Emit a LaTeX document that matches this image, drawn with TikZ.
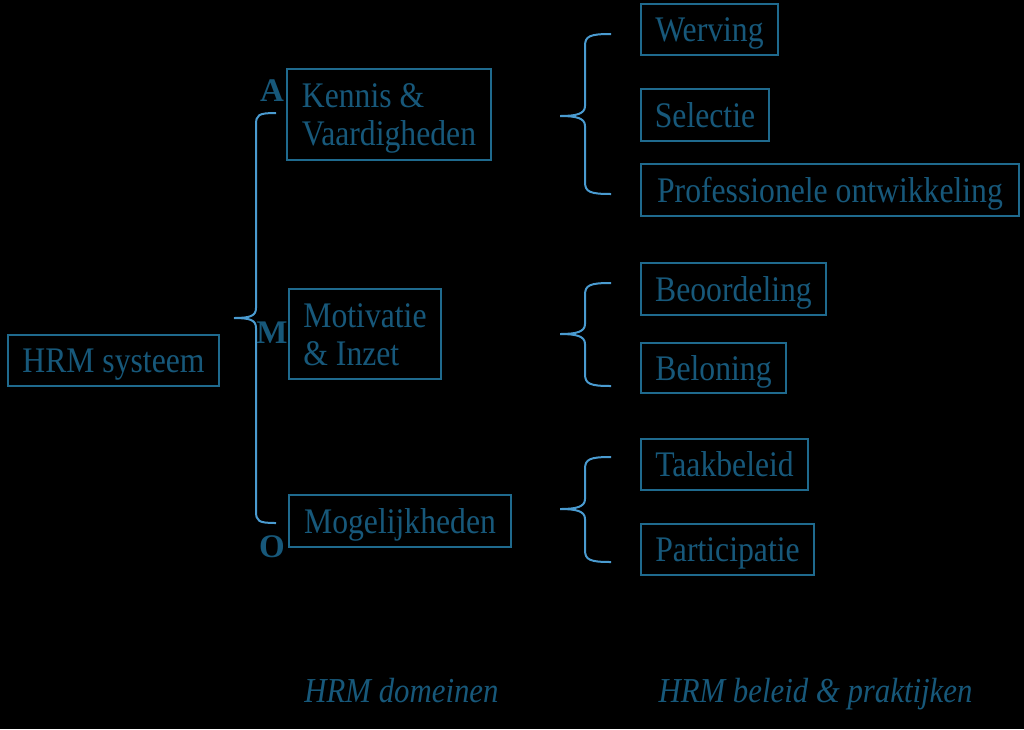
\documentclass[tikz,border=0pt]{standalone}
\usepackage{fontspec}
\setmainfont[FakeStretch=0.88]{Liberation Serif}
\newfontfamily\lettfont{Liberation Serif}
\definecolor{txtc}{HTML}{17587A}
\definecolor{boxc}{HTML}{1F6A8E}
\definecolor{brc}{HTML}{4A9BD0}
\newcommand{\twolines}[2]{\raisebox{0pt}[62pt][0pt]{\begin{tabular}[b]{@{}l@{}}#1\\#2\end{tabular}}}
\begin{document}
\begin{tikzpicture}[x=1pt,y=-1pt,
  box/.style={draw=boxc,line width=1.5pt,text=txtc,font=\fontsize{36}{38}\selectfont,inner sep=0pt,text height=24pt,text depth=0pt},
  box2/.style={draw=boxc,line width=1.5pt,text=txtc,font=\fontsize{36}{38}\selectfont,inner sep=0pt},
  letter/.style={text=txtc,font=\lettfont\fontsize{33}{35}\selectfont\bfseries,inner sep=0pt,text height=22pt,text depth=0pt},
  caption/.style={text=txtc,font=\fontsize{35}{37}\selectfont\itshape,inner sep=0pt,text height=22pt,text depth=0pt},
  brace/.style={draw=brc,line width=2pt}]
\fill[black] (0,0) rectangle (1024,729);
\useasboundingbox (0,0) rectangle (1024,729);
% left
\node[box,minimum width=211pt,minimum height=51pt] (hrm) at (113.5,360.5) {HRM systeem};
% domains
\node[box2,minimum width=204pt,minimum height=91pt] (kv) at (389,114.5) {\twolines{Kennis \&}{Vaardigheden}};
\node[box2,minimum width=152pt,minimum height=90pt] (mi) at (365,334) {\twolines{Motivatie}{\& Inzet}};
\node[box,minimum width=222pt,minimum height=52pt] (mo) at (400,521) {Mogelijkheden};
\node[letter] (la) at (272,90) {A};
\node[letter] (lm) at (272,332) {M};
\node[letter] (lo) at (272,546) {O};
% practices
\node[box,minimum width=137pt,minimum height=51pt] (we) at (709.5,29.5) {Werving};
\node[box,minimum width=128pt,minimum height=52pt] (se) at (705,115) {Selectie};
\node[box,minimum width=378pt,minimum height=52pt] (pr) at (830,190) {Professionele ontwikkeling};
\node[box,minimum width=185pt,minimum height=52pt] (be) at (733.5,289) {Beoordeling};
\node[box,minimum width=145pt,minimum height=50pt] (bl) at (713.5,368) {Beloning};
\node[box,minimum width=167pt,minimum height=51pt] (ta) at (724.5,464.5) {Taakbeleid};
\node[box,minimum width=173pt,minimum height=51pt] (pa) at (727.5,549.5) {Participatie};
% captions
\node[caption] (c1) at (401.5,691) {HRM domeinen};
\node[caption] (c2) at (815.5,691) {HRM beleid \& praktijken};
% braces
\coordinate (b0t) at (276,113); \coordinate (b0m) at (234,318); \coordinate (b0b) at (276,523);
\draw[brace] (b0t) .. controls (258,113) and (256,115) .. (256,125) -- (256,308)
  .. controls (256,316) and (250,318) .. (b0m)
  (b0m) .. controls (250,318) and (256,320) .. (256,328) -- (256,511)
  .. controls (256,521) and (258,523) .. (b0b);
\coordinate (b1t) at (611,34); \coordinate (b1m) at (560,116); \coordinate (b1b) at (611,194);
\draw[brace] (b1t) .. controls (590,34) and (585,36) .. (585,46) -- (585,106)
  .. controls (585,114) and (576,116) .. (b1m)
  (b1m) .. controls (576,116) and (585,118) .. (585,126) -- (585,182)
  .. controls (585,192) and (590,194) .. (b1b);
\coordinate (b2t) at (611,283); \coordinate (b2m) at (560,334); \coordinate (b2b) at (611,386);
\draw[brace] (b2t) .. controls (590,283) and (585,285) .. (585,295) -- (585,324)
  .. controls (585,332) and (576,334) .. (b2m)
  (b2m) .. controls (576,334) and (585,336) .. (585,344) -- (585,374)
  .. controls (585,384) and (590,386) .. (b2b);
\coordinate (b3t) at (611,457); \coordinate (b3m) at (560,509); \coordinate (b3b) at (611,562);
\draw[brace] (b3t) .. controls (590,457) and (585,459) .. (585,469) -- (585,499)
  .. controls (585,507) and (576,509) .. (b3m)
  (b3m) .. controls (576,509) and (585,511) .. (585,519) -- (585,550)
  .. controls (585,560) and (590,562) .. (b3b);
\end{tikzpicture}
\end{document}
